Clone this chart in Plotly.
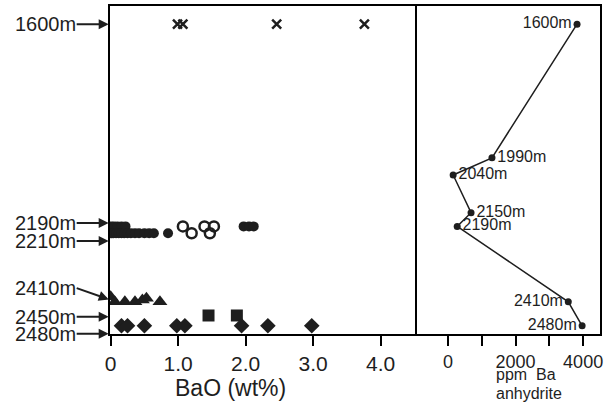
import plotly.graph_objects as go

# ---- data ----
cross_depth = 1600
cross_bao = [0.99, 1.07, 2.46, 3.76]

open_circle_bao = [1.07, 1.39, 1.53, 1.20, 1.47]
open_circle_depth = [2190, 2190, 2190, 2210, 2210]

filled_circle_bao = [0.01, 0.05, 0.10, 0.16, 0.22, 1.97, 2.05, 2.12,
                     0.01, 0.04, 0.08, 0.12, 0.16, 0.20, 0.25, 0.30, 0.36, 0.42, 0.50, 0.57, 0.64, 0.85]
filled_circle_depth = [2190, 2190, 2190, 2190, 2190, 2190, 2190, 2190,
                       2210, 2210, 2210, 2210, 2210, 2210, 2210, 2210, 2210, 2210, 2210, 2210, 2210, 2210]

triangle_bao = [0.0, 0.06, 0.21, 0.36, 0.47, 0.53, 0.73]
triangle_depth = [2395, 2410, 2410, 2410, 2405, 2400, 2410]

square_depth = 2450
square_bao = [1.45, 1.87]

diamond_depth = 2480
diamond_bao = [0.16, 0.25, 0.50, 0.98, 1.10, 1.94, 2.33, 2.98]

ba_depth = [1600, 1990, 2040, 2150, 2190, 2410, 2480]
ba_ppm = [3820, 1300, 150, 680, 270, 3560, 3970]
ba_labels = ["1600m", "1990m", "2040m", "2150m", "2190m", "2410m", "2480m"]
ba_label_pos = ["middle left", "middle right", "middle right", "middle right",
                "middle right", "middle left", "middle left"]

depth_labels = ["1600m", "2190m", "2210m", "2410m", "2450m", "2480m"]
depth_arrow_targets = [1600, 2180, 2233, 2405, 2454, 2503]
depth_label_rise = [0, 0, 0, -12, 0, 0]

bao_ticks = [0, 1, 2, 3, 4]
bao_ticktext = ["0", "1.0", "2.0", "3.0", "4.0"]
ppm_ticks = [0, 1000, 2000, 3000, 4000]
ppm_ticktext = ["0", "", "2000", "", "4000"]

INK = "#1e1e1e"
FONT = "Liberation Sans"

fig = go.Figure()

fig.add_trace(go.Scatter(x=cross_bao, y=[cross_depth] * len(cross_bao), mode="markers",
                         marker=dict(symbol="x-thin", size=9, color=INK, line=dict(width=2.5, color=INK)),
                         xaxis="x", yaxis="y", showlegend=False))
fig.add_trace(go.Scatter(x=filled_circle_bao, y=filled_circle_depth, mode="markers",
                         marker=dict(symbol="circle", size=10, color=INK),
                         xaxis="x", yaxis="y", showlegend=False))
fig.add_trace(go.Scatter(x=open_circle_bao, y=open_circle_depth, mode="markers",
                         marker=dict(symbol="circle-open", size=10, color=INK, line=dict(width=2.5, color=INK)),
                         xaxis="x", yaxis="y", showlegend=False))
fig.add_trace(go.Scatter(x=triangle_bao, y=triangle_depth, mode="markers",
                         marker=dict(symbol="triangle-up", size=13, color=INK),
                         xaxis="x", yaxis="y", showlegend=False))
fig.add_trace(go.Scatter(x=square_bao, y=[square_depth] * len(square_bao), mode="markers",
                         marker=dict(symbol="square", size=12, color=INK),
                         xaxis="x", yaxis="y", showlegend=False))
fig.add_trace(go.Scatter(x=diamond_bao, y=[diamond_depth] * len(diamond_bao), mode="markers",
                         marker=dict(symbol="diamond", size=12, color=INK),
                         xaxis="x", yaxis="y", showlegend=False))

fig.add_trace(go.Scatter(x=ba_ppm, y=ba_depth, mode="lines+markers+text",
                         text=ba_labels, textposition=ba_label_pos,
                         textfont=dict(family=FONT, size=16, color=INK),
                         line=dict(color=INK, width=1.5),
                         marker=dict(symbol="circle", size=7, color=INK),
                         xaxis="x2", yaxis="y2", showlegend=False, cliponaxis=False))

annotations = []
for lab, tgt, rise in zip(depth_labels, depth_arrow_targets, depth_label_rise):
    annotations.append(dict(x=0, y=tgt, xref="x", yref="y", text=lab,
                            showarrow=True, ax=-34, ay=rise, xanchor="right",
                            arrowhead=2, arrowsize=1, arrowwidth=2, arrowcolor=INK,
                            standoff=2, borderpad=0,
                            font=dict(family=FONT, size=20, color=INK)))

W, H = 614, 405
ML, MR, MT, MB = 110, 14, 6, 71
pw = W - ML - MR
ph = H - MT - MB
split = (415 - ML) / pw


def paper_note(text, px, py, size, anchor="center"):
    return dict(text=text, x=(px - ML) / pw, y=1 - (py - MT) / ph,
                xref="paper", yref="paper", xanchor=anchor, yanchor="middle",
                showarrow=False, borderpad=0,
                font=dict(family=FONT, size=size, color=INK))


annotations.append(paper_note("BaO (wt%)", 230, 388, 23))
annotations.append(paper_note("ppm  Ba", 495, 374, 16, "left"))
annotations.append(paper_note("anhydrite", 495, 393, 16, "left"))

axis_common = dict(showline=True, linecolor="black", linewidth=2, mirror=True,
                   showgrid=False, zeroline=False, ticks="outside", ticklen=10,
                   tickwidth=2, tickcolor="black", automargin=False)

fig.update_layout(
    width=W, height=H,
    margin=dict(l=ML, r=MR, t=MT, b=MB, autoexpand=False),
    paper_bgcolor="white", plot_bgcolor="white",
    xaxis=dict(domain=[0, split], range=[-0.01, 4.51], tickvals=bao_ticks,
               ticktext=bao_ticktext, tickfont=dict(family=FONT, size=21, color=INK),
               **axis_common),
    xaxis2=dict(domain=[split, 1], range=[-980, 4500], tickvals=ppm_ticks,
                ticktext=ppm_ticktext, anchor="y2",
                tickfont=dict(family=FONT, size=18, color=INK), **axis_common),
    yaxis=dict(range=[2504, 1547], showline=True, linecolor="black", linewidth=2,
               mirror=True, showgrid=False, zeroline=False, showticklabels=False,
               ticks="", anchor="x", automargin=False),
    yaxis2=dict(range=[2504, 1547], showline=True, linecolor="black", linewidth=2,
                mirror=False, side="right", showgrid=False, zeroline=False,
                showticklabels=False, ticks="", anchor="x2", matches="y",
                automargin=False),
    annotations=annotations,
)

fig.write_html("out.html", config={"displayModeBar": False},
               post_script="document.body.style.margin='0';")
